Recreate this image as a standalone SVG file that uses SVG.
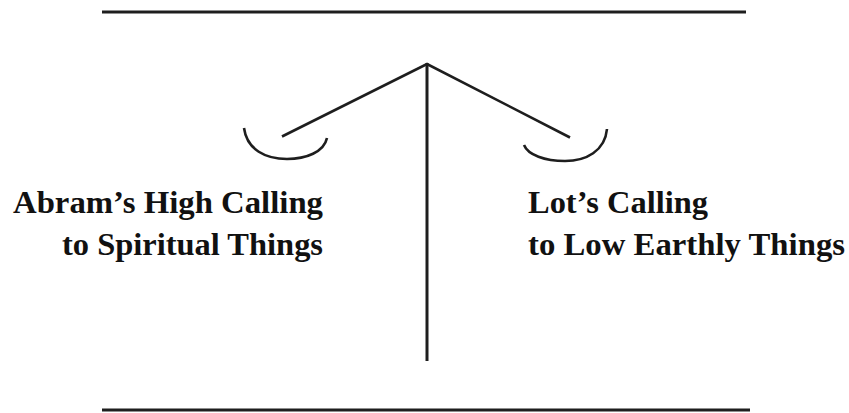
<svg xmlns="http://www.w3.org/2000/svg" width="849" height="413" viewBox="0 0 849 413">
<style>
.ln{stroke:#1e1e1e;stroke-width:3;fill:none;stroke-linecap:butt}
.bm{stroke:#1e1e1e;stroke-width:2.6;fill:none}
.t{font-family:"Liberation Serif","Times New Roman",serif;font-weight:bold;font-size:32px;fill:#111}
</style>
<rect width="849" height="413" fill="#fff"/>
<g id="frame">
<line class="ln" x1="102" y1="12" x2="746" y2="12"/>
<line class="ln" x1="102" y1="410" x2="750" y2="410"/>
</g>
<g id="scale">
<line class="ln" x1="427" y1="63" x2="427" y2="361"/>
<polyline class="bm" points="282,136.5 427,64 570,137.5" stroke-linejoin="miter"/>
<path id="left-pan" class="bm" d="M244,128 C247,150 266,159 287,159 C306,159 324,152 327,138"/>
<path id="right-pan" class="bm" d="M524,145 C528,155 545,161 565,161 C586,161 605,151 607,129"/>
</g>
<g id="abram">
<text class="t" x="323" y="213" text-anchor="end" textLength="310" lengthAdjust="spacingAndGlyphs">Abram’s High Calling</text>
<text class="t" x="323" y="255" text-anchor="end" textLength="261" lengthAdjust="spacingAndGlyphs">to Spiritual Things</text>
</g>
<g id="lot">
<text class="t" x="528" y="213" textLength="180" lengthAdjust="spacingAndGlyphs">Lot’s Calling</text>
<text class="t" x="528" y="255" textLength="317" lengthAdjust="spacingAndGlyphs">to Low Earthly Things</text>
</g>
</svg>
